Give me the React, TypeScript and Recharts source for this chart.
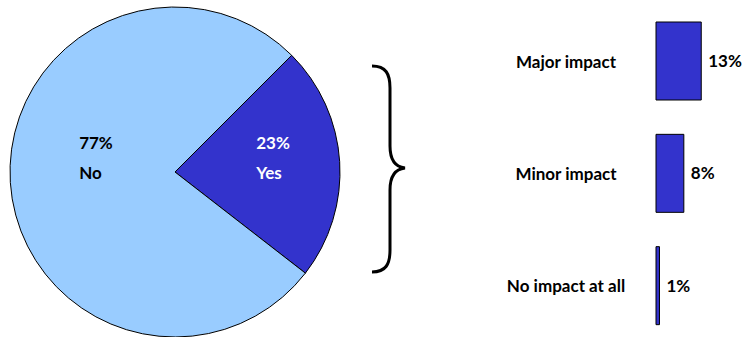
import { PieChart, Pie, Cell, BarChart, Bar, XAxis, YAxis, LabelList } from "recharts"

// pie: share who said yes / no
const pieNames = ["Yes", "No"]
const pieValues = [23, 77]

// breakdown of the "yes" answers
const impactNames = ["Major impact", "Minor impact", "No impact at all"]
const impactValues = [13, 8, 1]

const pieColors = ["#3333CC", "#99CCFF"]
const labelColors = ["#FFFFFF", "#000000"]
const labelRadius = [0.59, 0.485]
const FONT = "Lato, 'Open Sans', sans-serif"

const pieData = pieNames.map((name, i) => ({ name, value: pieValues[i] }))
const impactData = impactNames.map((name, i) => ({ name, value: impactValues[i] }))

const RADIAN = Math.PI / 180

const PieLabel = (props: any) => {
  const { cx, cy, midAngle, outerRadius, index, percent } = props
  const r = outerRadius * labelRadius[index]
  const x = cx + r * Math.cos(-midAngle * RADIAN) - 16
  return (
    <g fill={labelColors[index]} fontFamily={FONT} fontWeight={700} fontSize={17} textAnchor="start">
      <text x={x} y={cy - 30} dominantBaseline="central">{`${Math.round(percent * 100)}%`}</text>
      <text x={x} y={cy} dominantBaseline="central">{pieData[index].name}</text>
    </g>
  )
}

const ImpactTick = (props: any) => {
  const { y, payload } = props
  return (
    <text x={86} y={y} textAnchor="middle" dominantBaseline="central" fontFamily={FONT} fontWeight={700} fontSize={17} fill="#000">
      {payload.value}
    </text>
  )
}

export default function App() {
  return (
    <div style={{ position: "absolute", left: 0, top: 0, width: 743, height: 337, overflow: "hidden", background: "#fff" }}>
      <div style={{ position: "absolute", left: 0, top: 0 }}>
        <PieChart width={360} height={337} margin={{ top: 0, right: 0, bottom: 0, left: 0 }}>
          <Pie
            data={pieData}
            dataKey="value"
            nameKey="name"
            cx={175}
            cy={172}
            outerRadius={165}
            startAngle={45}
            endAngle={-315}
            stroke="#000"
            strokeWidth={1}
            label={<PieLabel />}
            labelLine={false}
            isAnimationActive={false}
          >
            {pieData.map((d, i) => (
              <Cell key={d.name} fill={pieColors[i]} />
            ))}
          </Pie>
        </PieChart>
      </div>

      <svg width={60} height={230} style={{ position: "absolute", left: 360, top: 50 }}>
        <path
          d="M12,16 C26,16 30,24 30,38 L30,96 C30,110 36,117 45,118 C36,119 30,126 30,140 L30,200 C30,214 26,222 12,222"
          fill="none"
          stroke="#000"
          strokeWidth={3}
        />
      </svg>

      <div style={{ position: "absolute", left: 480, top: 0 }}>
        <BarChart
          width={263}
          height={347}
          layout="vertical"
          data={impactData}
          margin={{ top: 5, right: 0, bottom: 5, left: 0 }}
        >
          <XAxis type="number" domain={[0, 25]} hide />
          <YAxis type="category" dataKey="name" width={176} axisLine={false} tickLine={false} tick={<ImpactTick />} />
          <Bar dataKey="value" fill="#3333CC" stroke="#000" strokeWidth={1} barSize={78} isAnimationActive={false}>
            <LabelList
              dataKey="value"
              position="right"
              offset={7}
              formatter={(v: any) => `${v}%`}
              style={{ fontFamily: FONT, fontWeight: 700, fontSize: 17, fill: "#000" }}
            />
          </Bar>
        </BarChart>
      </div>
    </div>
  )
}
